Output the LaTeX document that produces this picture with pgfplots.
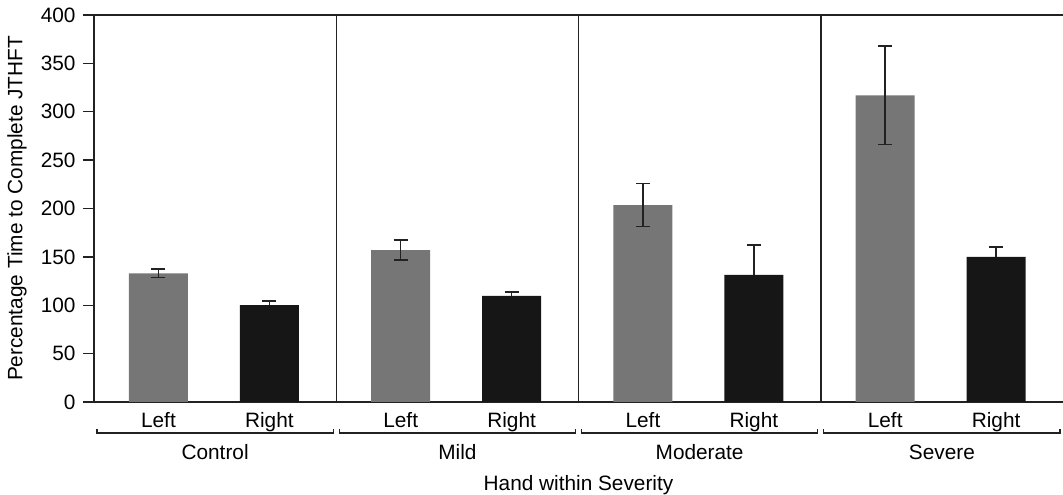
\documentclass[border=0pt]{standalone}
\usepackage{fontspec}
\setmainfont{Liberation Sans}
\usepackage{pgfplots}
\pgfplotsset{compat=1.18}
\definecolor{lgray}{HTML}{767676}
\definecolor{dblack}{HTML}{161616}
\definecolor{axc}{HTML}{222222}
\newcommand{\fs}{\fontsize{20.8pt}{24pt}\selectfont}
\begin{document}
\begin{tikzpicture}[font=\fs]
\useasboundingbox (-94pt,-93pt) rectangle (969pt,402pt);
\begin{axis}[
  at={(0,0)}, anchor=south west,
  width=969pt, height=387pt, scale only axis,
  xmin=0, xmax=4, ymin=0, ymax=400,
  axis lines=left,
  axis line style={-, axc, line width=1.5pt},
  clip=false,
  ytick={0,50,...,400},
  tick align=outside,
  ytick pos=left,
  major tick length=11pt,
  tick style={axc, line width=1.4pt},
  /pgf/number format/assume math mode=true,
  yticklabel style={font=\fs, xshift=-4pt},
  xtick={0.266,0.724,1.266,1.724,2.266,2.724,3.266,3.724},
  xticklabels={Left,Right,Left,Right,Left,Right,Left,Right},
  xtick style={draw=none},
  xticklabel style={anchor=base, yshift=-15pt, font=\fs},
  ylabel={Percentage Time to Complete JTHFT},
  ylabel style={at={(axis description cs:-0.0795,0.5)}, anchor=center, font=\fs},
]
\addplot[ybar, bar shift=0pt, bar width=0.2435, fill=lgray, draw=none,
  error bars/.cd, y dir=both, y explicit,
  error bar style={axc, line width=1.4pt},
  error mark options={rotate=90, axc, mark size=7pt, line width=1.4pt}]
  coordinates {
  (0.266,133)   +- (0,4.5)
  (1.266,157)   +- (0,10.3)
  (2.266,203.5) +- (0,22.3)
  (3.266,317)   +- (0,51)
  };
\addplot[ybar, bar shift=0pt, bar width=0.2435, fill=dblack, draw=none,
  error bars/.cd, y dir=plus, y explicit,
  error bar style={axc, line width=1.4pt},
  error mark options={rotate=90, axc, mark size=7pt, line width=1.4pt}]
  coordinates {
  (0.724,100)   +- (0,4.4)
  (1.724,109.6) +- (0,4.1)
  (2.724,131.3) +- (0,31)
  (3.724,149.9) +- (0,10.3)
  };
\draw[axc, line width=1.5pt] (rel axis cs:0,1) -- (rel axis cs:1,1);
\draw[axc, line width=1.5pt] (axis cs:1,0) -- (axis cs:1,400);
\draw[axc, line width=1.5pt] (axis cs:2,0) -- (axis cs:2,400);
\draw[axc, line width=1.5pt] (axis cs:3,0) -- (axis cs:3,400);
\draw[axc, line width=1.3pt] ([yshift=-27pt]axis cs:0.0125,0) -- ([yshift=-31pt]axis cs:0.0125,0) -- ([yshift=-31pt]axis cs:0.9875,0) -- ([yshift=-27pt]axis cs:0.9875,0);
\draw[axc, line width=1.3pt] ([yshift=-27pt]axis cs:1.0125,0) -- ([yshift=-31pt]axis cs:1.0125,0) -- ([yshift=-31pt]axis cs:1.9875,0) -- ([yshift=-27pt]axis cs:1.9875,0);
\draw[axc, line width=1.3pt] ([yshift=-27pt]axis cs:2.0125,0) -- ([yshift=-31pt]axis cs:2.0125,0) -- ([yshift=-31pt]axis cs:2.9875,0) -- ([yshift=-27pt]axis cs:2.9875,0);
\draw[axc, line width=1.3pt] ([yshift=-27pt]axis cs:3.0125,0) -- ([yshift=-31pt]axis cs:3.0125,0) -- ([yshift=-31pt]axis cs:3.9875,0) -- ([yshift=-27pt]axis cs:3.9875,0);
\node[anchor=base] at ([yshift=-58pt]axis cs:0.5,0) {Control};
\node[anchor=base] at ([yshift=-58pt]axis cs:1.5,0) {Mild};
\node[anchor=base] at ([yshift=-58pt]axis cs:2.5,0) {Moderate};
\node[anchor=base] at ([yshift=-58pt]axis cs:3.5,0) {Severe};
\node[anchor=base] at ([yshift=-88pt]axis cs:2,0) {Hand within Severity};
\end{axis}
\end{tikzpicture}
\end{document}
